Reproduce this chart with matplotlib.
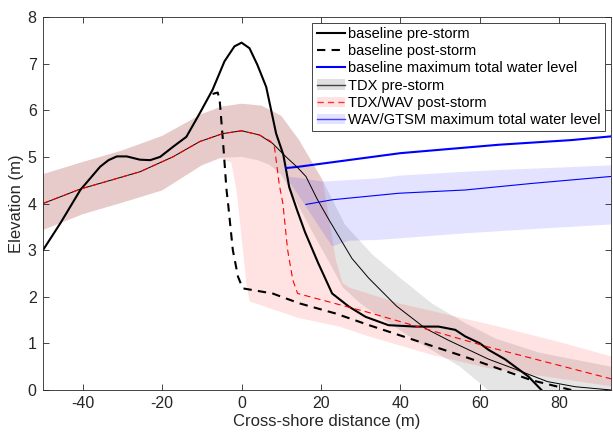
import matplotlib
matplotlib.use("Agg")
import matplotlib.pyplot as plt
from matplotlib.patches import Patch
from matplotlib.lines import Line2D

plt.rcParams['font.family'] = ['Liberation Sans', 'DejaVu Sans']
plt.rcParams['lines.scale_dashes'] = False
plt.rcParams['axes.unicode_minus'] = False

# ---------------- data ----------------
base_pre_x = [-50, -45.6, -40.6, -37.5, -35.6, -33.5, -31.4, -28.9, -25.6, -23, -20.5, -17.2, -13.9, -10.5, -7.3, -4.3,
              -1.8, 0, 2, 4, 6.2, 8.7, 10.5, 12, 14, 16, 19.3, 22.8, 27, 31.2, 37, 43.8, 49.6, 53.8,
              56.3, 60, 62.2, 66.3, 72.2, 75.5]
base_pre_y = [3.0, 3.58, 4.29, 4.6, 4.79, 4.93, 5.01, 5.01, 4.94, 4.93, 5.0, 5.22, 5.43, 5.94, 6.44, 7.05,
              7.37, 7.45, 7.33, 6.97, 6.5, 5.5, 5.05, 4.35, 3.85, 3.38, 2.72, 2.07, 1.79, 1.57, 1.39, 1.36, 1.36, 1.29,
              1.15, 1.0, 0.86, 0.66, 0.29, 0.0]

base_post_x = [-7.3, -6, -5.5, -4.7, -3.8, -3.4, -2.2, -0.9, 0.3, 7.8, 14.5, 23.7, 32.1, 39.6, 56.3, 73, 83]
base_post_y = [6.35, 6.38, 6.2, 5.36, 4.3, 4.0, 3.0, 2.43, 2.18, 2.07, 1.86, 1.64, 1.39, 1.18, 0.71, 0.21, 0.0]

base_twl_x = [11.2, 14.5, 40, 64.7, 83, 93]
base_twl_y = [4.76, 4.79, 5.08, 5.26, 5.36, 5.44]

tdx_pre_x = [-50, -40.6, -25.6, -17.3, -10.5, -4.7, 0, 4.5, 7.8, 11.2, 14, 16.2, 19, 22, 25, 27.8, 32,
             39, 46.3, 52, 62.2, 68.8, 77, 84, 93]
tdx_pre_y = [4.0, 4.31, 4.68, 5.0, 5.33, 5.5, 5.56, 5.47, 5.29, 5.0, 4.78, 4.58, 4.1, 3.65, 3.22, 2.82, 2.4,
             1.8, 1.32, 1.07, 0.66, 0.45, 0.18, 0.07, 0.0]

wav_post_x = [-50, -40.6, -25.6, -17.3, -10.5, -4.7, 0, 4.5, 7.4, 8.3, 9.5, 10.4, 11.6, 12.9, 14.1,
              32.1, 62.2, 93]
wav_post_y = [4.0, 4.31, 4.68, 5.0, 5.33, 5.5, 5.56, 5.47, 5.33, 5.2, 4.4, 4.0, 3.0, 2.36, 2.07,
              1.66, 0.92, 0.24]

gtsm_twl_x = [16.2, 22.8, 39.6, 56.3, 73, 93]
gtsm_twl_y = [3.98, 4.08, 4.22, 4.29, 4.43, 4.58]

gray_up_x = [-50, -40, -30, -20, -10, -5, 0, 5, 10, 14.5, 20.4, 26, 33, 40, 48, 56, 64, 75, 93]
gray_up_y = [4.63, 4.89, 5.14, 5.45, 5.92, 6.08, 6.14, 6.1, 5.88, 5.36, 4.5, 3.55, 2.9, 2.4, 1.85, 1.45, 1.1, 0.8, 0.5]
gray_lo_x = [-50, -40, -30, -20, -10, -5, 0, 4, 7, 10, 14, 18, 22, 25.5, 30, 35, 45, 55, 62, 70, 93]
gray_lo_y = [3.43, 3.77, 4.02, 4.28, 4.82, 4.98, 5.0, 4.93, 4.83, 4.62, 4.0, 3.36, 2.75, 2.2, 1.85, 1.55,
             1.0, 0.5, 0.0, -0.4, -0.4]

pink_up_x = [-50, -40, -30, -20, -10, -5, 0, 5, 10, 14.5, 20.4, 22, 23.7, 25.4, 27, 39.6, 64.7, 81.3, 93]
pink_up_y = [4.63, 4.89, 5.14, 5.45, 5.92, 6.08, 6.14, 6.1, 5.88, 5.36, 4.5, 3.7, 2.8, 2.3, 2.2, 1.86, 1.36, 1.0, 0.72]
pink_lo_x = [-50, -40, -30, -20, -10, -5.5, -2.6, -1.3, -0.9, 1.2, 2, 14.5, 24.6, 32, 48, 62, 93]
pink_lo_y = [3.43, 3.77, 4.02, 4.28, 4.82, 4.98, 4.88, 4.3, 4.0, 2.29, 1.9, 1.54, 1.36, 1.15, 0.75, 0.47, 0.08]

blue_up_x = [11.2, 14.5, 20.4, 34.6, 40, 56, 65, 80, 93]
blue_up_y = [4.58, 4.55, 4.47, 4.54, 4.6, 4.68, 4.72, 4.77, 4.82]
blue_lo_x = [22.8, 27, 34.6, 56.3, 75, 93]
blue_lo_y = [3.08, 3.2, 3.22, 3.36, 3.46, 3.55]

labels = ['baseline pre-storm', 'baseline post-storm', 'baseline maximum total water level',
          'TDX pre-storm', 'TDX/WAV post-storm', 'WAV/GTSM maximum total water level']

# ---------------- plot ----------------
fig = plt.figure(figsize=(6.13, 4.34), dpi=100)
ax = fig.add_axes([0.0701, 0.1014, 0.9266, 0.8594])

GRAY = (0, 0, 0, 0.10)
PINK = (1, 0, 0, 0.115)
BLUE = (0, 0, 1, 0.11)


def band(upx, upy, lox, loy, color):
    px = list(upx) + list(lox)[::-1]
    py = list(upy) + list(loy)[::-1]
    ax.fill(px, py, color=color, lw=0)


band(gray_up_x, gray_up_y, gray_lo_x, gray_lo_y, GRAY)
band(pink_up_x, pink_up_y, pink_lo_x, pink_lo_y, PINK)
band(blue_up_x, blue_up_y, blue_lo_x, blue_lo_y, BLUE)

l1, = ax.plot(base_pre_x, base_pre_y, color='k', lw=1.5)
l2, = ax.plot(base_post_x, base_post_y, color='k', lw=1.5, dashes=(6, 4.5))
l3, = ax.plot(base_twl_x, base_twl_y, color='#0000ff', lw=1.5)
l4, = ax.plot(tdx_pre_x, tdx_pre_y, color='k', lw=0.7)
l5, = ax.plot(wav_post_x, wav_post_y, color='#ff0000', lw=0.8, dashes=(4.5, 3))
l6, = ax.plot(gtsm_twl_x, gtsm_twl_y, color='#0000ff', lw=0.8)

h4 = (Patch(facecolor=(0.88, 0.88, 0.88), lw=0), Line2D([], [], color='#444444', lw=1.0))
h5 = (Patch(facecolor=(1, 0.89, 0.89), lw=0), Line2D([], [], color='#ff3333', lw=1.0, dashes=(4.5, 3)))
h6 = (Patch(facecolor=(0.89, 0.89, 1.0), lw=0), Line2D([], [], color='#4444ff', lw=1.0))

leg = ax.legend([l1, l2, l3, h4, h5, h6], labels, loc='upper right', bbox_to_anchor=(0.99, 0.985),
                borderaxespad=0, fontsize=10.5, handlelength=1.95, handletextpad=0.22,
                borderpad=0.3, labelspacing=0.22, fancybox=False, framealpha=1,
                edgecolor='#262626')
leg.get_frame().set_linewidth(0.6)

ax.set_xlim(-50, 93)
ax.set_ylim(0, 8)
ax.set_xticks([-40, -20, 0, 20, 40, 60, 80])
ax.set_yticks([0, 1, 2, 3, 4, 5, 6, 7, 8])
ax.tick_params(direction='in', top=True, right=True, length=4, width=0.6,
               colors='#262626', labelsize=11.5, pad=4.5)
for s in ax.spines.values():
    s.set_linewidth(0.6)
    s.set_color('#262626')
ax.set_xlabel('Cross-shore distance (m)', fontsize=12, color='#262626', labelpad=2)
ax.set_ylabel('Elevation (m)', fontsize=12, color='#262626', labelpad=3)

fig.savefig('out.png', dpi=100)
